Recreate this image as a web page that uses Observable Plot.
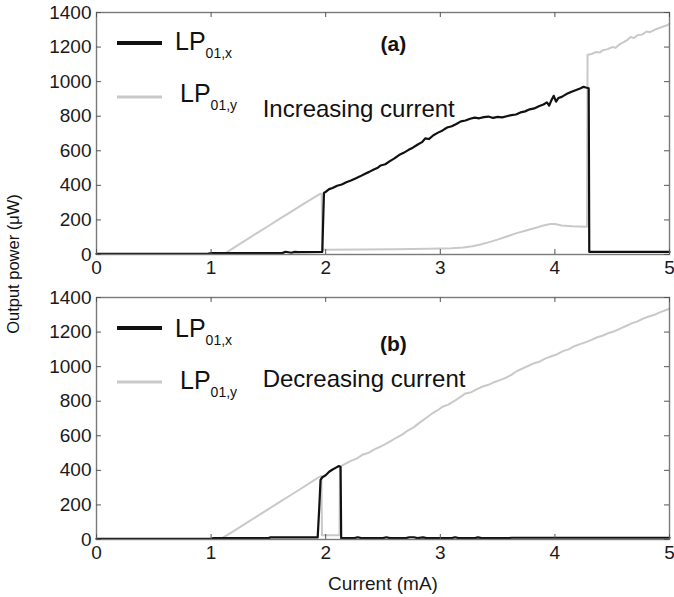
<!DOCTYPE html>
<html><head><meta charset="utf-8">
<script src="https://cdn.jsdelivr.net/npm/d3@7"></script>
<script src="https://cdn.jsdelivr.net/npm/@observablehq/plot@0.6"></script>
<style>
body{margin:0;background:#fff;font-family:"Liberation Sans",Arial,sans-serif;}
#wrap{position:relative;width:674px;height:597px;overflow:hidden;}
#top{position:absolute;left:0;top:0;}
#bot{position:absolute;left:0;top:280px;}
#ylab{position:absolute;left:13px;top:264px;transform:translate(-50%,-50%) rotate(-90deg);font-size:16.5px;white-space:nowrap;color:#111;}
</style></head><body>
<div id="wrap"><div id="top"></div><div id="bot"></div><div id="ylab">Output power (μW)</div></div>
<script>
// ---- data (current in mA, power in µW) ----
const xTicks = [0, 1, 2, 3, 4, 5];
const yTicks = [0, 200, 400, 600, 800, 1000, 1200, 1400];
const seriesNames = ["LP01,x", "LP01,y"];

// (a) increasing current
const incLP01x = [[0,4],[0.97,4],[1.0,8],[1.62,8],[1.65,16],[1.7,10],[1.73,15],[1.76,14],[1.97,15],[1.985,357],[2.0,362],[2.03,378],[2.06,385],[2.1,398],[2.14,405],[2.18,418],[2.22,428],[2.26,440],[2.3,452],[2.34,466],[2.38,478],[2.42,492],[2.45,500],[2.48,515],[2.52,522],[2.56,540],[2.6,556],[2.64,575],[2.68,588],[2.72,604],[2.76,618],[2.8,635],[2.84,650],[2.87,672],[2.9,668],[2.94,690],[2.98,705],[3.02,718],[3.06,735],[3.1,742],[3.14,755],[3.18,770],[3.22,775],[3.26,785],[3.3,792],[3.34,788],[3.38,795],[3.42,798],[3.46,790],[3.5,796],[3.54,793],[3.58,800],[3.62,806],[3.66,810],[3.7,822],[3.74,828],[3.78,840],[3.82,845],[3.86,858],[3.9,868],[3.93,880],[3.95,862],[3.97,893],[3.99,918],[4.01,884],[4.03,905],[4.06,912],[4.1,928],[4.14,940],[4.18,950],[4.22,960],[4.25,970],[4.27,966],[4.295,962],[4.3,15],[5,15]];
const incLP01y = [[0,3],[1.1,3],[1.13,10],[1.2,40],[1.3,82],[1.4,124],[1.5,165],[1.6,207],[1.7,248],[1.8,290],[1.9,330],[1.955,352],[1.965,352],[1.972,30],[2.0,28],[2.3,29],[2.6,31],[2.9,33],[3.1,36],[3.2,40],[3.28,48],[3.35,58],[3.42,70],[3.5,86],[3.58,104],[3.66,122],[3.74,137],[3.82,152],[3.9,168],[3.96,176],[4.0,176],[4.06,168],[4.15,163],[4.28,160],[4.285,1155],[4.32,1160],[4.36,1172],[4.39,1168],[4.42,1182],[4.46,1188],[4.5,1200],[4.53,1196],[4.56,1214],[4.6,1228],[4.63,1240],[4.66,1258],[4.69,1252],[4.72,1268],[4.76,1272],[4.8,1290],[4.83,1286],[4.87,1300],[4.91,1310],[4.95,1320],[4.98,1326],[5.0,1335]];

// (b) decreasing current
const decLP01x = [[0,4],[1.0,4],[1.02,8],[1.5,8],[1.52,12],[1.93,12],[1.945,200],[1.955,345],[1.97,360],[2.0,372],[2.03,392],[2.06,405],[2.09,416],[2.115,425],[2.13,420],[2.135,8],[2.25,8],[2.28,13],[2.31,8],[2.5,8],[2.53,13],[2.56,8],[2.7,8],[2.73,13],[2.77,13],[2.8,8],[2.85,12],[2.88,8],[3.1,8],[3.13,13],[3.16,8],[3.3,8],[3.33,12],[3.36,8],[3.6,8],[3.62,10],[5,10]];
const decLP01y = [[0,3],[1.08,3],[1.1,10],[1.2,50],[1.3,92],[1.4,134],[1.5,176],[1.6,218],[1.7,259],[1.8,301],[1.9,343],[1.955,366],[1.962,366],[1.968,24],[2.05,24],[2.12,24],[2.125,422],[2.17,438],[2.22,455],[2.27,468],[2.32,490],[2.37,500],[2.42,520],[2.47,535],[2.52,552],[2.57,570],[2.62,590],[2.67,608],[2.72,632],[2.77,650],[2.82,676],[2.87,700],[2.92,725],[2.97,745],[3.02,768],[3.07,780],[3.12,800],[3.17,822],[3.22,845],[3.27,852],[3.32,870],[3.37,885],[3.42,895],[3.47,910],[3.52,922],[3.57,935],[3.62,952],[3.67,975],[3.72,990],[3.77,1005],[3.82,1020],[3.87,1030],[3.92,1048],[3.97,1060],[4.02,1072],[4.07,1090],[4.12,1100],[4.17,1118],[4.22,1130],[4.27,1142],[4.32,1155],[4.37,1170],[4.42,1180],[4.47,1195],[4.52,1205],[4.57,1220],[4.62,1235],[4.67,1250],[4.72,1262],[4.77,1278],[4.82,1290],[4.87,1300],[4.92,1315],[4.97,1328],[5.0,1335]];

const panelTags = ["(a)", "(b)"];
const panelNotes = ["Increasing current", "Decreasing current"];

// ---- drawing ----
const FONT = '"Liberation Sans", Arial, sans-serif';
const BLACK = "#111", GREY = "#c9c9c9", FRAME = "#7a7a7a";
const toRows = arr => arr.map(([c, p]) => ({current: c, power: p}));
const fmt = d => String(d);

function panel({lpx, lpy, tag, tagY, note, noteY, height, mt, mb, xLabel, legendDy}) {
  const ph = height - mt - mb;
  const t = 5;
  const p = Plot.plot({
    width: 674, height, marginLeft: 96, marginRight: 5, marginTop: mt, marginBottom: mb,
    style: {fontFamily: FONT, background: "white", color: "#1a1a1a", overflow: "visible"},
    x: {domain: [0, 5]},
    y: {domain: [0, 1400]},
    marks: [
      Plot.line(toRows(lpy), {x: "current", y: "power", stroke: GREY, strokeWidth: 2}),
      Plot.line(toRows(lpx), {x: "current", y: "power", stroke: BLACK, strokeWidth: 2.2}),
      Plot.frame({stroke: FRAME, strokeWidth: 1.4}),
      Plot.tickX(xTicks, {x: d => d, stroke: "#555", insetTop: ph - t}),
      Plot.tickX(xTicks, {x: d => d, stroke: "#555", insetBottom: ph - t}),
      Plot.tickY(yTicks, {y: d => d, stroke: "#555", insetRight: 674 - 101 - t}),
      Plot.tickY(yTicks, {y: d => d, stroke: "#555", insetLeft: 674 - 101 - t}),
      Plot.axisX(xTicks, {tickSize: 0, tickPadding: 6, fontSize: 19, tickFormat: fmt, label: xLabel, labelAnchor: "center", labelArrow: "none", labelOffset: 50, fontSize: 19}),
      Plot.axisY(yTicks, {tickSize: 0, tickPadding: 5, fontSize: 19, tickFormat: fmt, label: null}),
      Plot.text([tag], {x: 2.59, y: tagY, text: d => d, fontSize: 21, fontWeight: "bold", fill: BLACK}),
      Plot.text([note], {x: 1.45, y: noteY, text: d => d, fontSize: 24, textAnchor: "start", fill: BLACK})
    ]
  });
  // legend (line samples with subscripted labels)
  const svg = d3.select(p);
  const g = svg.append("g").attr("font-family", FONT).attr("fill", BLACK).attr("text-anchor", "start");
  const items = [
    {name: seriesNames[0], color: BLACK, w: 4, ly: 31, tx: 175, ty: 38 + legendDy},
    {name: seriesNames[1], color: GREY, w: 3, ly: 85, tx: 180, ty: 90 + legendDy}
  ];
  for (const it of items) {
    g.append("line").attr("x1", 117).attr("x2", 162).attr("y1", mt + it.ly).attr("y2", mt + it.ly)
      .attr("stroke", it.color).attr("stroke-width", it.w);
    const tx = g.append("text").attr("x", it.tx).attr("y", mt + it.ty).attr("font-size", 25).attr("text-anchor", "start");
    tx.append("tspan").text(it.name.slice(0, 2));
    tx.append("tspan").attr("dy", 8).attr("font-size", 14).text(it.name.slice(2));
  }
  return p;
}

document.getElementById("top").append(panel({
  lpx: incLP01x, lpy: incLP01y, tag: panelTags[0], tagY: 1219, note: panelNotes[0], noteY: 840,
  height: 280, mt: 12, mb: 26, xLabel: null, legendDy: 0
}));
document.getElementById("bot").append(panel({
  lpx: decLP01x, lpy: decLP01y, tag: panelTags[1], tagY: 1127, note: panelNotes[1], noteY: 925,
  height: 317, mt: 17, mb: 58, xLabel: "Current (mA)", legendDy: 2
}));
</script>
</body></html>
